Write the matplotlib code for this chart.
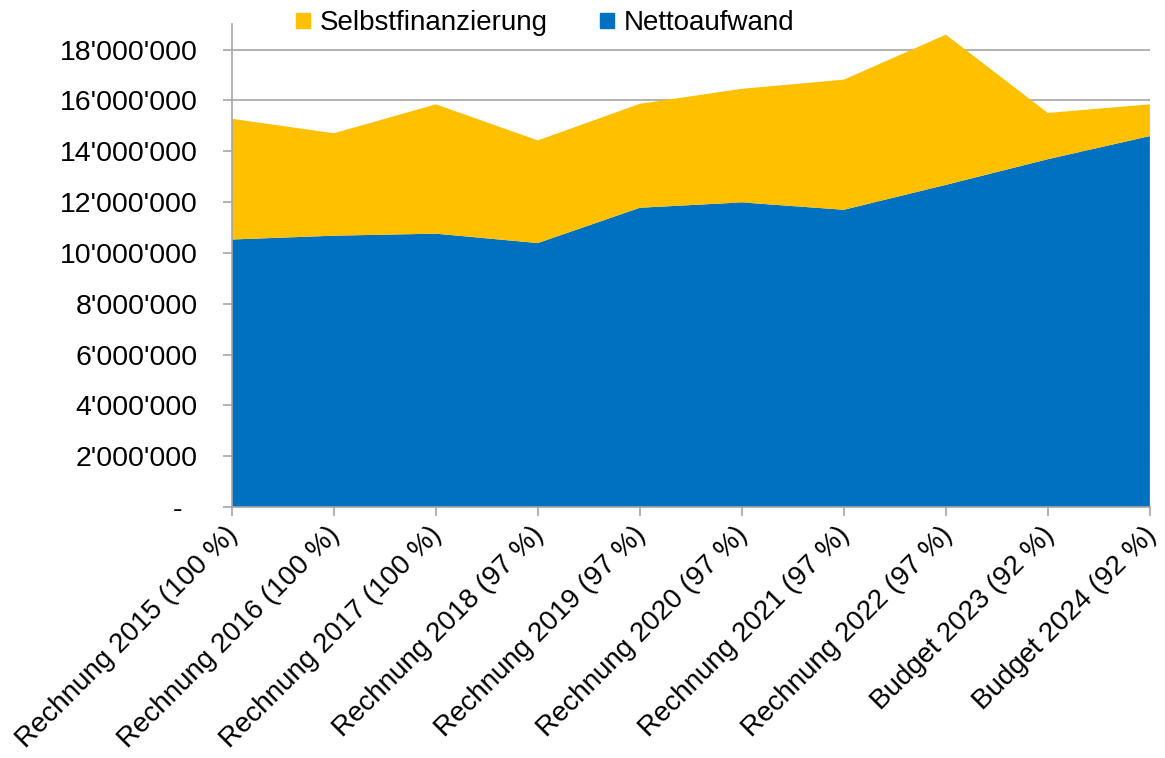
import matplotlib.pyplot as plt
from matplotlib.ticker import FuncFormatter
from matplotlib.transforms import ScaledTranslation
import numpy as np

plt.rcParams['font.family'] = ['Liberation Sans', 'DejaVu Sans']

# categories and values (CHF)
labels = ['Rechnung 2015 (100 %)', 'Rechnung 2016 (100 %)', 'Rechnung 2017 (100 %)',
          'Rechnung 2018 (97 %)', 'Rechnung 2019 (97 %)', 'Rechnung 2020 (97 %)',
          'Rechnung 2021 (97 %)', 'Rechnung 2022 (97 %)', 'Budget 2023 (92 %)',
          'Budget 2024 (92 %)']
nettoaufwand = [10530000, 10680000, 10760000, 10390000, 11780000,
                11990000, 11700000, 12680000, 13690000, 14600000]
selbstfinanzierung = [4750000, 4030000, 5090000, 4040000, 4090000,
                      4470000, 5120000, 5910000, 1820000, 1250000]

BLUE = '#0070C0'
YELLOW = '#FFC000'
GRID = '#A6A6A6'

fig = plt.figure(figsize=(11.65, 7.58), dpi=100)
ax = fig.add_axes([0.199, 0.331, 0.788, 0.637])

x = np.arange(len(labels))
ax.stackplot(x, nettoaufwand, selbstfinanzierung, colors=[BLUE, YELLOW], zorder=2)

ax.set_xlim(0, len(labels) - 1)
ax.set_ylim(0, 19000000)
ax.set_yticks(np.arange(0, 18000001, 2000000))


def fmt(v, pos):
    if v == 0:
        return '-  '   # accounting style dash, padded like the original
    return f'{int(v):,}'.replace(',', "'")


ax.yaxis.set_major_formatter(FuncFormatter(fmt))
ax.grid(axis='y', color=GRID, linewidth=1.2, zorder=1)
ax.set_axisbelow(True)

ax.set_xticks(x)
ax.set_xticklabels(labels, rotation=45, ha='right', rotation_mode='anchor')
ax.tick_params(axis='both', labelsize=20, colors=GRID, labelcolor='black',
               length=6.5, width=1.2, direction='out')
ax.tick_params(axis='y', labelsize=20.5, pad=18)
ax.tick_params(axis='x', pad=4)

# nudge rotated labels a little to the left, like the original
shift = ScaledTranslation(-5 / 72, 0, fig.dpi_scale_trans)
for t in ax.get_xticklabels():
    t.set_transform(t.get_transform() + shift)

for s in ['top', 'right']:
    ax.spines[s].set_visible(False)
for s in ['left', 'bottom']:
    ax.spines[s].set_color(GRID)
    ax.spines[s].set_linewidth(1.2)

handles = [plt.Rectangle((0, 0), 1, 1, color=YELLOW),
           plt.Rectangle((0, 0), 1, 1, color=BLUE)]
fig.legend(handles, ['Selbstfinanzierung', 'Nettoaufwand'], loc='center',
           bbox_to_anchor=(0.468, 0.969), ncol=2, frameon=False, fontsize=20,
           handlelength=0.48, handleheight=0.48, handletextpad=0.35, columnspacing=1.9)

fig.savefig('out.png', dpi=100)
